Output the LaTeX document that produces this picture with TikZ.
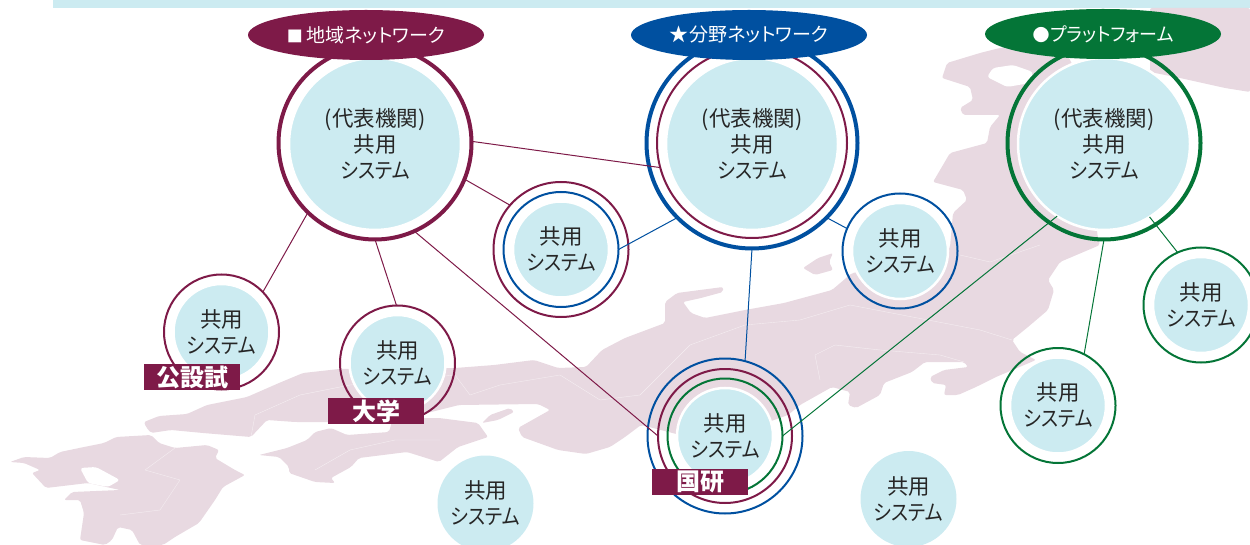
\documentclass[tikz,border=0pt]{standalone}
\usepackage{fontspec}
\newfontfamily\cjk[RawFeature=+palt]{Noto Sans CJK JP}
\newfontfamily\kana[RawFeature=+palt,FakeStretch=0.885]{Noto Sans CJK JP}
\newfontfamily\kanb[RawFeature=+palt,FakeStretch=0.945]{Noto Sans CJK JP}
\usetikzlibrary{shapes.geometric}
\definecolor{maroon}{HTML}{7E1A48}
\definecolor{nblue}{HTML}{0050A0}
\definecolor{ngreen}{HTML}{047537}
\definecolor{landc}{HTML}{E8D9E1}
\definecolor{discc}{HTML}{CCEBF1}
\newcommand\sysm{{\kana システム}}
\newcommand\dai{\kern-1pt(代表機関)\kern-1pt}
\tikzset{
  x=1pt,y=-1pt,
  land/.style={fill=landc,draw=none,rounded corners=2pt},
  hole/.style={fill=white,draw=none,rounded corners=3pt},
  pref/.style={draw=white,line width=0.4pt,opacity=.55},
  disc/.style={circle,fill=discc,draw=white,line width=2.5pt,inner sep=0pt,outer sep=0pt,minimum size=#1,align=center,text=black!85,font=\fontsize{21.5}{26}\selectfont\cjk},
  ring/.style n args={3}{circle,draw=#2,line width=#3,inner sep=0pt,outer sep=0pt,minimum size=#1},
  head/.style={ellipse,fill=#1,inner sep=0pt,minimum width=236pt,minimum height=50pt,text=white,font=\fontsize{19}{22}\selectfont\cjk},
  badge/.style={fill=maroon,text=white,minimum width=96pt,minimum height=26pt,inner sep=0pt,font=\fontsize{24}{26}\selectfont\cjk\bfseries},
  conn/.style={draw=#1,line width=1pt}
}
\begin{document}
\begin{tikzpicture}
\useasboundingbox (0,0) rectangle (1250,545);
\fill[discc] (53,0) rectangle (1250,8);
% map
\fill[land] (1150,8) -- (1250,8) -- (1250,92) -- (1225,88) -- (1180,78) -- (1150,72) -- cycle;
\fill[land] (144,422) -- (159,416) -- (187,414) -- (207,405) -- (247,397) -- (279,383) -- (303,373) -- (339,369) -- (455,368) -- (494,365) -- (534,360) -- (558,368) -- (586,367) -- (602,350) -- (625,338) -- (665,323) -- (665,302) -- (677,293) -- (723,287) -- (723,292) -- (701,298) -- (683,302) -- (691,313) -- (705,318) -- (745,310) -- (784,303) -- (832,290) -- (852,273) -- (890,268) -- (920,270) -- (940,265) -- (950,247) -- (953,213) -- (967,200) -- (963,190) -- (933,182) -- (950,153) -- (987,143) -- (990,127) -- (1000,115) -- (963,115) -- (960,108) -- (973,100) -- (970,87) -- (942,78) -- (947,63) -- (980,53) -- (1000,48) -- (1060,40) -- (1100,120) -- (1097,233) -- (1100,245) -- (1060,262) -- (1048,280) -- (1054,290) -- (1048,310) -- (1028,327) -- (1012,340) -- (1020,352) -- (1036,360) -- (996,377) -- (976,387) -- (958,395) -- (944,395) -- (946,385) -- (932,383) -- (930,377) -- (944,370) -- (968,367) -- (964,362) -- (925,362) -- (912,372) -- (884,383) -- (880,395) -- (856,408) -- (848,405) -- (850,392) -- (832,387) -- (800,405) -- (788,415) -- (760,425) -- (700,440) -- (641,425) -- (625,437) -- (610,447) -- (586,454) -- (558,450) -- (522,437) -- (518,428) -- (550,410) -- (538,404) -- (459,405) -- (427,413) -- (340,422) -- (295,422) -- (267,420) -- (251,437) -- (203,433) -- (171,430) -- (151,433) -- (146,427) -- cycle;
\fill[hole] (987,77) -- (993,68) -- (1013,65) -- (1033,72) -- (1030,83) -- (1007,87) -- cycle;
\fill[land] (803,268) -- (818,258) -- (833,253) -- (829,262) -- (833,270) -- (815,275) -- cycle;
\fill[land] (482,423) -- (490,415) -- (510,408) -- (514,412) -- (498,420) -- cycle;
\fill[land] (259,455) -- (287,448) -- (307,440) -- (315,432) -- (331,428) -- (347,435) -- (389,432) -- (393,418) -- (439,418) -- (478,423) -- (488,437) -- (458,447) -- (439,462) -- (407,452) -- (359,458) -- (351,467) -- (331,478) -- (335,483) -- (315,482) -- (289,473) -- (289,467) -- (279,457) -- cycle;
\fill[land] (10,462) -- (24,457) -- (50,458) -- (60,452) -- (84,447) -- (104,443) -- (116,437) -- (151,435) -- (159,443) -- (175,448) -- (207,445) -- (219,450) -- (215,458) -- (235,470) -- (245,475) -- (223,487) -- (215,500) -- (199,523) -- (175,537) -- (163,545) -- (140,545) -- (132,530) -- (118,527) -- (112,540) -- (105,545) -- (80,540) -- (84,513) -- (80,500) -- (64,500) -- (72,492) -- (120,490) -- (88,483) -- (46,488) -- (32,473) -- (40,470) -- (24,463) -- cycle;
\fill[hole] (80,468) -- (96,467) -- (120,480) -- (108,487) -- (88,483) -- cycle;
% prefecture borders
\draw[pref] (251,437) -- (255,415) -- (300,395) -- (350,385) -- (455,375) -- (470,395) -- (500,385) -- (560,375) -- (600,400) -- (640,395) -- (690,345) -- (745,325) -- (800,320) -- (850,305) -- (980,330) -- (1012,340);
\draw[pref] (820,380) -- (815,355) -- (835,345) -- (880,350) -- (940,355) -- (964,362);
\draw[pref] (175,448) -- (145,470) -- (180,480) -- (160,510) -- (120,515);
\draw[pref] (315,470) -- (350,450) -- (395,440) -- (440,440);
\draw[pref] (1040,245) -- (990,262) -- (960,255);
% discs
\node[disc=172pt] (Ld) at (375,144) {\dai\\共用\\\sysm};
\node[disc=172pt] (Md) at (752,144) {\dai\\共用\\\sysm};
\node[disc=172pt] (Rd) at (1104,144) {\dai\\共用\\\sysm};
\node[disc=96pt] (Ad) at (221.5,332) {共用\\\sysm};
\node[disc=96pt] (Bd) at (397.5,363) {共用\\\sysm};
\node[disc=96pt] (Cd) at (561,249.5) {共用\\\sysm};
\node[disc=96pt] (Dd) at (900,251) {共用\\\sysm};
\node[disc=96pt] (Ed) at (1201,305) {共用\\\sysm};
\node[disc=96pt] (Fd) at (1058,405.5) {共用\\\sysm};
\node[disc=96pt] (Gd) at (725,436) {共用\\\sysm};
\node[disc=96pt,draw=none] (Hd) at (485.5,503.5) {共用\\\sysm};
\node[disc=96pt,draw=none] (Id) at (908.5,499) {共用\\\sysm};
% rings
\node[ring={193pt}{maroon}{4pt}] (L) at (375,143) {};
\node[ring={211pt}{nblue}{4pt}] (M) at (752,143) {};
\node[ring={190pt}{maroon}{2pt}] (Mm) at (752,143) {};
\node[ring={193pt}{ngreen}{4pt}] (R) at (1104,143) {};
\node[ring={115pt}{maroon}{2pt}] (A) at (221.5,332) {};
\node[ring={115pt}{maroon}{2pt}] (B) at (397.5,363) {};
\node[ring={135pt}{maroon}{2pt}] (C) at (561,249.5) {};
\node[ring={115pt}{nblue}{2pt}] (Cb) at (561,249.5) {};
\node[ring={115pt}{nblue}{2pt}] (D) at (900,251) {};
\node[ring={115pt}{ngreen}{2pt}] (E) at (1201,305) {};
\node[ring={115pt}{ngreen}{2pt}] (F) at (1058,405.5) {};
\node[ring={155pt}{nblue}{2pt}] (G) at (725,436) {};
\node[ring={134pt}{maroon}{2pt}] (Gm) at (725,436) {};
\node[ring={115pt}{ngreen}{2pt}] (Gg) at (725,436) {};
% connectors
\draw[conn=maroon] (L.1) -- (Mm.195);
\draw[conn=maroon] (L.-22) -- (C.139);
\draw[conn=maroon] (L.226) -- (A.44);
\draw[conn=maroon] (L.270) -- (B.91);
\draw[conn=maroon] (L.294) -- (Gm.180);
\draw[conn=nblue] (M.225) -- (Cb.0);
\draw[conn=nblue] (M.-45) -- (D.157);
\draw[conn=nblue] (M.270) -- (G.75);
\draw[conn=ngreen] (Rd.237) -- (Gg.0);
\draw[conn=ngreen] (R.270) -- (F.63);
\draw[conn=ngreen] (Rd.-58) -- (E.114);
% headers
\node[head=maroon] (hL) at (366,35) {{\fontsize{16}{22}\selectfont ■}\kern4pt 地域ネットワーク};
\node[head=nblue] (hM) at (749,35) {★\kern1pt 分野ネットワーク};
\node[head=ngreen] (hR) at (1103,34) {{\fontsize{17}{22}\selectfont ●}\kern1pt{\kanb プラットフォーム}};
% badges
\node[badge] (b1) at (192,377) {公設試};
\node[badge] (b2) at (376,411) {大学};
\node[badge] (b3) at (700,482) {国研};
\end{tikzpicture}
\end{document}
